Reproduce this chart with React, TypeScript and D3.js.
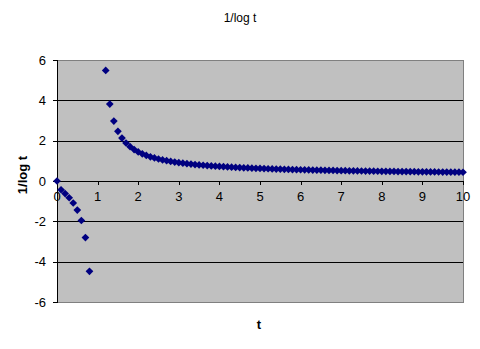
import React from "react";
import * as d3 from "d3";

const T: number[] = [
  0, 0.1, 0.2, 0.3, 0.4, 0.5, 0.6, 0.7, 0.8, 0.9, 1.0,
  1.1, 1.2, 1.3, 1.4, 1.5, 1.6, 1.7, 1.8, 1.9, 2.0,
  2.1, 2.2, 2.3, 2.4, 2.5, 2.6, 2.7, 2.8, 2.9, 3.0,
  3.1, 3.2, 3.3, 3.4, 3.5, 3.6, 3.7, 3.8, 3.9, 4.0,
  4.1, 4.2, 4.3, 4.4, 4.5, 4.6, 4.7, 4.8, 4.9, 5.0,
  5.1, 5.2, 5.3, 5.4, 5.5, 5.6, 5.7, 5.8, 5.9, 6.0,
  6.1, 6.2, 6.3, 6.4, 6.5, 6.6, 6.7, 6.8, 6.9, 7.0,
  7.1, 7.2, 7.3, 7.4, 7.5, 7.6, 7.7, 7.8, 7.9, 8.0,
  8.1, 8.2, 8.3, 8.4, 8.5, 8.6, 8.7, 8.8, 8.9, 9.0,
  9.1, 9.2, 9.3, 9.4, 9.5, 9.6, 9.7, 9.8, 9.9, 10.0,
];

const INV_LOG: (number | null)[] = [
  0, -0.434, -0.621, -0.831, -1.091, -1.443, -1.958, -2.804, -4.481, -9.491, null,
  10.492, 5.485, 3.812, 2.972, 2.466, 2.128, 1.885, 1.701, 1.558, 1.443,
  1.348, 1.268, 1.201, 1.142, 1.091, 1.047, 1.007, 0.971, 0.939, 0.910,
  0.884, 0.860, 0.838, 0.817, 0.798, 0.781, 0.764, 0.749, 0.735, 0.721,
  0.709, 0.697, 0.686, 0.675, 0.665, 0.655, 0.646, 0.638, 0.629, 0.621,
  0.614, 0.607, 0.600, 0.593, 0.587, 0.581, 0.575, 0.569, 0.563, 0.558,
  0.553, 0.548, 0.543, 0.539, 0.534, 0.530, 0.526, 0.522, 0.518, 0.514,
  0.510, 0.507, 0.503, 0.500, 0.496, 0.493, 0.490, 0.487, 0.484, 0.481,
  0.478, 0.475, 0.473, 0.470, 0.467, 0.465, 0.462, 0.460, 0.457, 0.455,
  0.453, 0.451, 0.448, 0.446, 0.444, 0.442, 0.440, 0.438, 0.436, 0.434,
];

const X_TICKS: number[] = [0, 1, 2, 3, 4, 5, 6, 7, 8, 9, 10];
const Y_TICKS: number[] = [-6, -4, -2, 0, 2, 4, 6];

const TITLE = "1/log t";
const X_TITLE = "t";
const Y_TITLE = "1/log t";

export default function App() {
  const W = 480, H = 349;
  const left = 57, right = 463, top = 60, bottom = 302;
  const x = d3.scaleLinear().domain([0, 10]).range([left, right]);
  const y = d3.scaleLinear().domain([-6, 6]).range([bottom, top]);
  const font = "'Liberation Sans', Arial, sans-serif";
  const diamond = d3.symbol().type(d3.symbolDiamond2).size(38)() as string;

  const pts = T.map((t, i) => ({ t, v: INV_LOG[i] })).filter(
    (d) => d.v !== null && (d.v as number) >= -6 && (d.v as number) <= 6
  );

  return (
    <svg
      width={W}
      height={H}
      style={{ position: "absolute", left: 0, top: 0, background: "#fff" }}
      fontFamily={font}
    >
      <rect x={left} y={top} width={right - left} height={bottom - top} fill="#C0C0C0" stroke="#808080" strokeWidth={1} shapeRendering="crispEdges" />
      {Y_TICKS.filter((v) => v !== -6 && v !== 6 && v !== 0).map((v) => (
        <line key={"g" + v} x1={left} x2={right} y1={Math.round(y(v)) + 0.5} y2={Math.round(y(v)) + 0.5} stroke="#000" strokeWidth={1} shapeRendering="crispEdges" />
      ))}
      {/* y axis */}
      <line x1={left + 0.5} x2={left + 0.5} y1={top} y2={bottom + 1} stroke="#000" shapeRendering="crispEdges" />
      {Y_TICKS.map((v) => (
        <g key={"yt" + v}>
          <line x1={left - 4} x2={left} y1={Math.round(y(v)) + 0.5} y2={Math.round(y(v)) + 0.5} stroke="#000" shapeRendering="crispEdges" />
          <text x={left - 11} y={y(v) + 4.5} textAnchor="end" fontSize={13} fill="#000">
            {v}
          </text>
        </g>
      ))}
      {/* x axis at 0 */}
      <line x1={left} x2={right} y1={Math.round(y(0)) + 0.5} y2={Math.round(y(0)) + 0.5} stroke="#000" shapeRendering="crispEdges" />
      {X_TICKS.map((v) => (
        <g key={"xt" + v}>
          <line x1={Math.round(x(v)) + 0.5} x2={Math.round(x(v)) + 0.5} y1={y(0)} y2={y(0) + 4} stroke="#000" shapeRendering="crispEdges" />
          <text x={x(v)} y={y(0) + 20} textAnchor="middle" fontSize={13} fill="#000">
            {v}
          </text>
        </g>
      ))}
      {pts.map((d, i) => (
        <path key={i} d={diamond} transform={`translate(${x(d.t)},${y(d.v as number)})`} fill="#000080" />
      ))}
      <text x={240} y={22} textAnchor="middle" fontSize={12} fill="#000">
        {TITLE}
      </text>
      <text x={259} y={329} textAnchor="middle" fontSize={13} fontWeight="bold" fill="#000">
        {X_TITLE}
      </text>
      <text transform={`translate(27,175) rotate(-90)`} textAnchor="middle" fontSize={13} fontWeight="bold" fill="#000">
        {Y_TITLE}
      </text>
    </svg>
  );
}
